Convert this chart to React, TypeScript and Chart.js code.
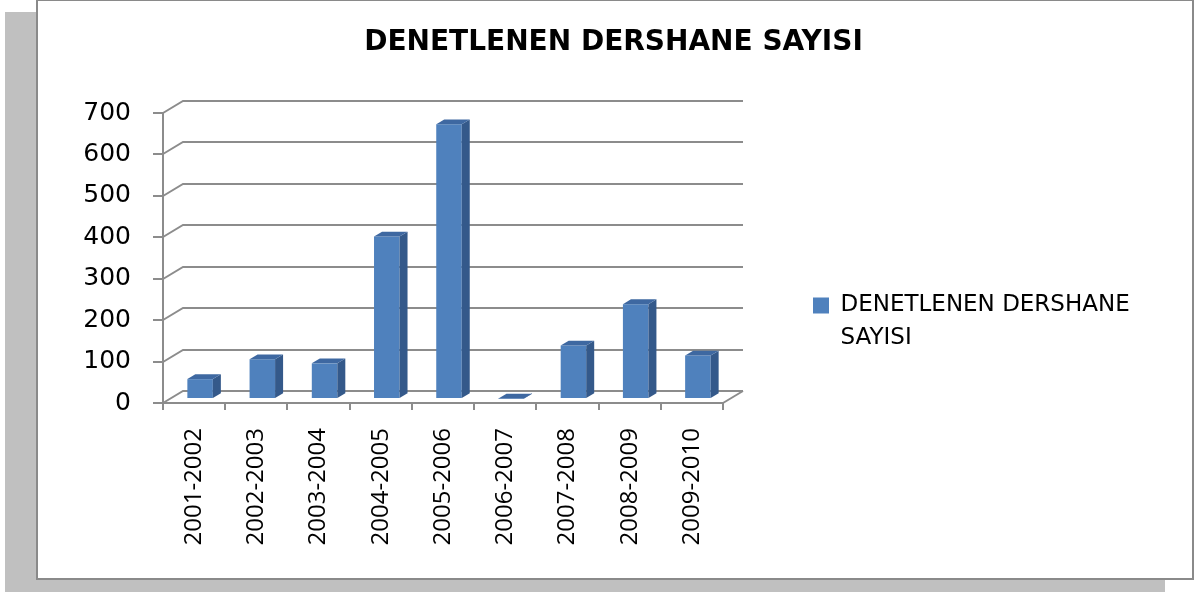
import { useEffect, useRef } from 'react';
import { Chart, registerables } from 'chart.js';

Chart.register(...registerables);

// ---- data ----
const CATEGORIES = [
  '2001-2002', '2002-2003', '2003-2004', '2004-2005', '2005-2006',
  '2006-2007', '2007-2008', '2008-2009', '2009-2010',
];
const VALUES = [48, 96, 86, 392, 663, 1, 129, 229, 105];
const SERIES_LABEL = 'DENETLENEN DERSHANE SAYISI';
const LEGEND_LINES = ['DENETLENEN DERSHANE', 'SAYISI'];
const TITLE = 'DENETLENEN DERSHANE SAYISI';
const Y_MIN = 0;
const Y_MAX = 700;
const Y_STEP = 100;

// ---- style ----
const FRONT = '#4F81BD';
const SIDE = '#34598A';
const TOP = '#3E68A1';
const GRID = '#8C8C8C';
const DEPTH_X = 20;
const DEPTH_Y = 12;
const BAR_SHIFT_X = 6;
const BAR_SHIFT_Y = 4;
const BAR_DX = 8;
const BAR_DY = 4.8;

const threeD = {
  id: 'threeD',
  beforeDatasetsDraw(chart: any) {
    const { ctx, chartArea: a, scales } = chart;
    const y = scales.y;
    ctx.save();
    ctx.strokeStyle = GRID;
    ctx.lineWidth = 2;
    y.ticks.forEach((t: any) => {
      const py = Math.round(y.getPixelForValue(t.value));
      ctx.beginPath();
      ctx.moveTo(a.left, py);
      ctx.lineTo(a.left + DEPTH_X, py - DEPTH_Y);
      ctx.lineTo(a.right + DEPTH_X, py - DEPTH_Y);
      ctx.stroke();
    });
    const p0 = Math.round(y.getPixelForValue(0));
    ctx.beginPath();
    ctx.moveTo(a.right, p0);
    ctx.lineTo(a.right + DEPTH_X, p0 - DEPTH_Y);
    ctx.stroke();
    ctx.restore();
    ctx.save();
    ctx.translate(BAR_SHIFT_X, -BAR_SHIFT_Y);
  },
  afterDatasetsDraw(chart: any) {
    const { ctx } = chart;
    const meta = chart.getDatasetMeta(0);
    meta.data.forEach((el: any) => {
      const { x, y, base, width } = el.getProps(['x', 'y', 'base', 'width'], true);
      const l = x - width / 2;
      const r = x + width / 2;
      ctx.fillStyle = SIDE;
      ctx.beginPath();
      ctx.moveTo(r, y);
      ctx.lineTo(r + BAR_DX, y - BAR_DY);
      ctx.lineTo(r + BAR_DX, base - BAR_DY);
      ctx.lineTo(r, base);
      ctx.closePath();
      ctx.fill();
      ctx.fillStyle = TOP;
      ctx.beginPath();
      ctx.moveTo(l, y);
      ctx.lineTo(l + BAR_DX, y - BAR_DY);
      ctx.lineTo(r + BAR_DX, y - BAR_DY);
      ctx.lineTo(r, y);
      ctx.closePath();
      ctx.fill();
    });
    ctx.restore();
  },
};

export default function App() {
  const ref = useRef<HTMLCanvasElement>(null);

  useEffect(() => {
    const chart = new Chart(ref.current as HTMLCanvasElement, {
      type: 'bar',
      data: {
        labels: CATEGORIES,
        datasets: [
          {
            label: SERIES_LABEL,
            data: VALUES,
            backgroundColor: FRONT,
            borderWidth: 0,
            barPercentage: 0.41,
            categoryPercentage: 1,
            clip: false,
            yAxisID: 'y',
          } as any,
        ],
      },
      options: {
        animation: false,
        responsive: false,
        devicePixelRatio: 1,
        events: [],
        layout: { padding: { left: 33, right: 0, top: 0, bottom: 0 } },
        plugins: {
          tooltip: { enabled: false },
          title: {
            display: true,
            text: TITLE,
            color: '#000',
            font: { family: 'DejaVu Sans', weight: 'bold', size: 28, lineHeight: 1.2 },
            padding: { top: 26.2, bottom: 53.2 },
          },
          legend: {
            display: true,
            position: 'right',
            align: 'start',
            maxWidth: 412,
            title: {
              display: true,
              text: '',
              font: { size: 10, lineHeight: 1 },
              padding: { top: 194, bottom: 0 },
            },
            labels: {
              boxWidth: 16,
              boxHeight: 16,
              padding: 90,
              color: '#000',
              font: { family: 'DejaVu Sans', size: 23, lineHeight: 1.435 },
              generateLabels: () => [
                {
                  text: LEGEND_LINES as any,
                  fillStyle: FRONT,
                  strokeStyle: FRONT,
                  fontColor: '#000',
                  lineWidth: 0,
                  hidden: false,
                  datasetIndex: 0,
                },
              ],
            },
          },
        },
        scales: {
          x: {
            offset: true,
            grid: {
              display: true,
              drawOnChartArea: false,
              drawTicks: true,
              tickLength: 7,
              color: GRID,
              lineWidth: 2,
              offset: true,
            },
            border: { display: true, color: GRID, width: 2 },
            ticks: {
              autoSkip: false,
              minRotation: 90,
              maxRotation: 90,
              padding: 18,
              color: '#000',
              font: { family: 'Open Sans', size: 24 },
            },
            afterFit: (s: any) => {
              s.height = 189;
            },
          },
          y: {
            min: Y_MIN,
            max: Y_MAX,
            grid: {
              display: true,
              drawOnChartArea: false,
              drawTicks: true,
              tickLength: 10,
              color: GRID,
              lineWidth: 2,
            },
            border: { display: true, color: GRID, width: 2 },
            ticks: {
              stepSize: Y_STEP,
              padding: 22,
              color: '#000',
              font: { family: 'DejaVu Sans', size: 25 },
            },
            afterFit: (s: any) => {
              s.width = 130;
            },
          },
          // spacer on the far right (outside the legend) to fix the plot width
          spacer: {
            type: 'linear',
            position: 'right',
            weight: 2000,
            display: true,
            grid: { display: false, drawTicks: false },
            border: { display: false },
            ticks: { display: false },
            afterFit: (s: any) => {
              s.width = 59;
            },
          },
        },
      } as any,
      plugins: [threeD],
    });
    return () => chart.destroy();
  }, []);

  return (
    <div
      style={{
        position: 'fixed',
        left: 0,
        top: 0,
        width: 1194,
        height: 592,
        overflow: 'hidden',
        background: '#fff',
      }}
    >
      <div
        style={{
          position: 'absolute',
          left: 5,
          top: 12,
          width: 1160,
          height: 580,
          background: '#c0c0c0',
        }}
      />
      <div
        style={{
          position: 'absolute',
          left: 36,
          top: -1,
          width: 1158,
          height: 581,
          boxSizing: 'border-box',
          border: '2px solid #8a8a8a',
          background: '#fff',
        }}
      />
      <canvas
        ref={ref}
        width={1194}
        height={592}
        style={{ position: 'absolute', left: 0, top: 0, width: 1194, height: 592 }}
      />
    </div>
  );
}
